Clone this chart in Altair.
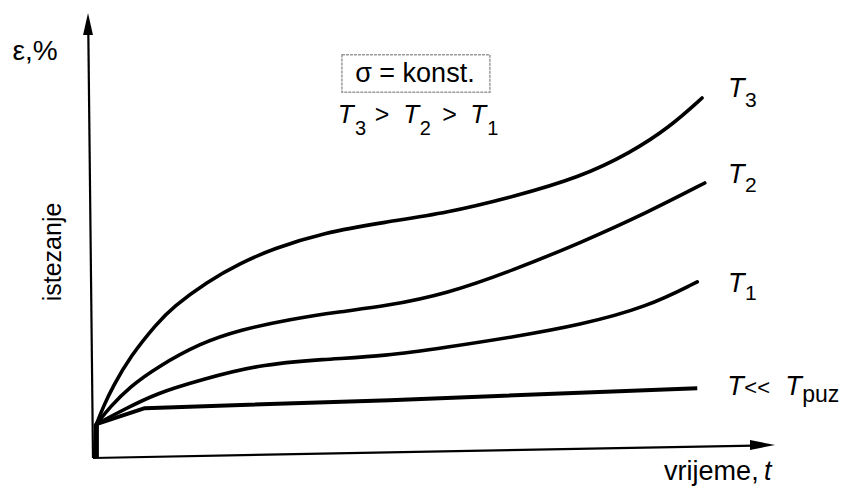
import altair as alt
import pandas as pd

# ---- data (t = time units, s = strain units) ----
T3_t = [0.5, 1.5, 2.9, 5.4, 9.4, 11.7, 16.7, 21.6, 26.4, 33.7, 42.8, 51.9, 61.6, 71.4, 78.7, 84.6, 89.3]
T3_s = [7.6, 11.5, 16.0, 22.7, 30.3, 33.9, 39.6, 43.8, 47.0, 50.6, 53.0, 55.1, 58.7, 63.1, 68.5, 74.4, 80.9]

T2_t = [0.5, 2.5, 5.4, 9.4, 15.7, 21.6, 28.9, 36.2, 42.8, 51.9, 61.6, 71.4, 81.2, 89.7]
T2_s = [7.6, 11.5, 16.0, 20.4, 25.8, 28.8, 31.2, 32.9, 34.1, 36.9, 42.2, 48.3, 55.1, 61.8]

T1_t = [0.5, 4.4, 9.4, 15.7, 24.0, 33.7, 42.8, 51.9, 61.6, 71.4, 81.2, 88.6]
T1_s = [7.6, 10.8, 14.6, 17.5, 20.9, 22.2, 22.9, 24.9, 27.2, 29.9, 33.9, 39.6]

T0_t = [0.5, 7.6, 43.5, 88.6]
T0_s = [7.6, 11.2, 13.0, 15.7]

INIT_t = [0.5, 0.5]
INIT_s = [0.0, 7.6]

XAXIS_t = [0.0, 97.0]
XAXIS_s = [0.0, 2.8]
YAXIS_t = [0.0, -0.7]
YAXIS_s = [0.0, 97.5]

# ---- layout ----
W, H = 833, 479
X0, KX = 85.0, 6.82
Y0, KY = 450.0, 4.45
xs = alt.Scale(domain=[-X0 / KX, (W - X0) / KX], nice=False, zero=False)
ys = alt.Scale(domain=[(Y0 - H) / KY, Y0 / KY], nice=False, zero=False)
FONT = "Liberation Sans"


def enc(ch):
    return ch.encode(
        x=alt.X("t:Q", scale=xs, axis=None),
        y=alt.Y("s:Q", scale=ys, axis=None),
    )


curves = pd.concat([
    pd.DataFrame({"series": "T3", "t": T3_t, "s": T3_s}),
    pd.DataFrame({"series": "T2", "t": T2_t, "s": T2_s}),
    pd.DataFrame({"series": "T1", "t": T1_t, "s": T1_s}),
])

curve_layer = enc(alt.Chart(curves).mark_line(
    color="black", strokeWidth=3.6, interpolate="basis", strokeCap="round"
)).encode(detail="series:N", order="t:Q")

t0_layer = enc(alt.Chart(pd.DataFrame({"t": T0_t, "s": T0_s})).mark_line(
    color="black", strokeWidth=4, strokeCap="butt", strokeJoin="round"))

init_layer = enc(alt.Chart(pd.DataFrame({"t": INIT_t, "s": INIT_s})).mark_line(
    color="black", strokeWidth=5)).encode(order="s:Q")

xaxis_layer = enc(alt.Chart(pd.DataFrame({"t": XAXIS_t, "s": XAXIS_s})).mark_line(
    color="black", strokeWidth=2.2))
yaxis_layer = enc(alt.Chart(pd.DataFrame({"t": YAXIS_t, "s": YAXIS_s})).mark_line(
    color="black", strokeWidth=2.2)).encode(order="s:Q")

yarrow = enc(alt.Chart(pd.DataFrame({"t": [-0.73], "s": [100.0]})).mark_point(
    shape="M0,0L-0.45,2L0.45,2Z", size=484, filled=True, color="black", opacity=1))
xarrow = enc(alt.Chart(pd.DataFrame({"t": [100.0], "s": [2.92]})).mark_point(
    shape="M0,0L-2,-0.4L-2,0.4Z", size=625, filled=True, color="black", opacity=1))

box = alt.Chart(pd.DataFrame({"t": [36.5], "t2": [58.2], "s": [90.6], "s2": [82.2]})).mark_rect(
    fill="white", stroke="#9a9a9a", strokeWidth=1.5, strokeDash=[3, 1]
).encode(
    x=alt.X("t:Q", scale=xs, axis=None), x2="t2:Q",
    y=alt.Y("s:Q", scale=ys, axis=None), y2="s2:Q",
)


def txt(t, s, text, size, italic=False, align="left", baseline="alphabetic", angle=0):
    kw = dict(font=FONT, fontSize=size, color="black", align=align, baseline=baseline)
    if italic:
        kw["fontStyle"] = "italic"
    if angle:
        kw["angle"] = angle
    return enc(alt.Chart(pd.DataFrame({"t": [t], "s": [s], "label": [text]})).mark_text(**kw)).encode(
        text="label:N")


texts = [
    txt(-11.8, 89.4, "ε,%", 28),
    txt(-5.9, 46.3, "istezanje", 25, align="center", baseline="middle", angle=270),
    txt(47.2, 84.5, "σ = konst.", 27, align="center"),
    # T3 > T2 > T1
    txt(35.9, 75.3, "T", 26, italic=True),
    txt(38.4, 72.6, "3", 20),
    txt(41.3, 75.3, ">", 25),
    txt(45.5, 75.3, "T", 26, italic=True),
    txt(47.9, 72.6, "2", 20),
    txt(51.2, 75.3, ">", 25),
    txt(55.3, 75.3, "T", 26, italic=True),
    txt(57.8, 72.6, "1", 20),
    # curve labels
    txt(93.1, 81.1, "T", 27, italic=True),
    txt(95.6, 78.9, "3", 21),
    txt(93.1, 61.8, "T", 27, italic=True),
    txt(95.6, 59.8, "2", 21),
    txt(93.1, 37.3, "T", 27, italic=True),
    txt(95.6, 35.5, "1", 21),
    txt(93.0, 14.2, "T", 27, italic=True),
    txt(95.5, 14.2, "<<", 22),
    txt(101.5, 14.2, "T", 27, italic=True),
    txt(104.0, 12.6, "puz", 23),
    # x label
    txt(97.6, -5.0, "vrijeme,", 27, align="right"),
    txt(99.5, -5.0, "t", 27, italic=True, align="right"),
]

chart = alt.layer(
    xaxis_layer, yaxis_layer, xarrow, yarrow, box,
    curve_layer, t0_layer, init_layer, *texts
).properties(
    width=W, height=H, padding=0,
    autosize=alt.AutoSizeParams(type="none"),
    background="white",
).configure_view(stroke=None)

chart.save("out.html", embed_options={"renderer": "svg", "actions": False})
